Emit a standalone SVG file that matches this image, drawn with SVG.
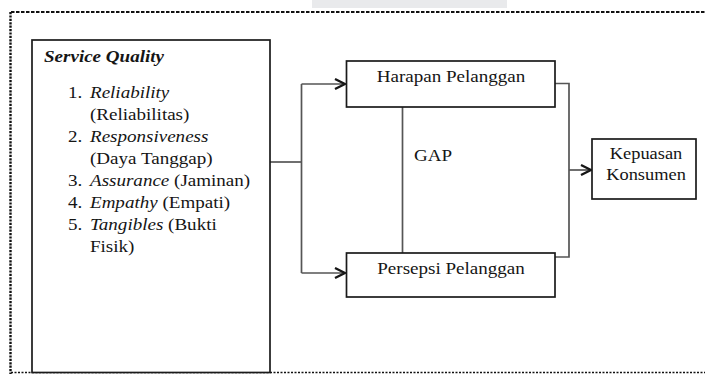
<svg xmlns="http://www.w3.org/2000/svg" width="705" height="374" viewBox="0 0 705 374">
<defs>
<style>
.t{font-family:"Liberation Serif","Times New Roman",serif;font-size:16px;fill:#151515}
.i{font-style:italic}
.b{font-weight:bold}
.box{fill:#fff;stroke:#1a1a1a;stroke-width:1.7}
.con{fill:none;stroke:#555;stroke-width:1.7}
</style>
<marker id="arr" viewBox="0 0 12 12" refX="11" refY="6" markerWidth="12" markerHeight="12" markerUnits="userSpaceOnUse" orient="auto">
<polyline points="1,1 11,6 1,11" fill="none" stroke="#151515" stroke-width="2.3"/>
</marker>
</defs>
<rect x="0" y="0" width="705" height="374" fill="#fff"/>
<rect x="312" y="0" width="195" height="8" fill="#e9eaec"/>
<g id="frame" fill="none" stroke="#111">
<line x1="11" y1="12" x2="705" y2="12" stroke-width="2" stroke-dasharray="3.5 1.5"/>
<line x1="10.5" y1="12" x2="10.5" y2="374" stroke-width="2.4" stroke-dasharray="2.2 1.2"/>
<line x1="11" y1="372.5" x2="705" y2="372.5" stroke-width="1.5" stroke-dasharray="2 1.5"/>
</g>
<g id="connectors">
<path class="con" d="M270,162 H301.5"/>
<path class="con" d="M301.5,84 V273"/>
<path class="con" d="M301.5,84 H345" marker-end="url(#arr)"/>
<path class="con" d="M301.5,273 H345" marker-end="url(#arr)"/>
<path class="con" d="M402.5,107 V253"/>
<path class="con" d="M555,83.5 H569 V257 H555"/>
<path class="con" d="M569,170 H591" marker-end="url(#arr)"/>
</g>
<g id="service-quality">
<rect class="box" x="32" y="40" width="238" height="332.5"/>
<text class="t b i" transform="translate(44,62) scale(1.19,1)">Service Quality</text>
<text class="t" transform="translate(68,98) scale(1.19,1)">1.</text>
<text class="t i" transform="translate(90,98) scale(1.19,1)">Reliability</text>
<text class="t" transform="translate(90,120) scale(1.19,1)">(Reliabilitas)</text>
<text class="t" transform="translate(68,142) scale(1.19,1)">2.</text>
<text class="t i" transform="translate(90,142) scale(1.19,1)">Responsiveness</text>
<text class="t" transform="translate(90,164) scale(1.19,1)">(Daya Tanggap)</text>
<text class="t" transform="translate(68,186) scale(1.19,1)">3.</text>
<text class="t" transform="translate(90,186) scale(1.19,1)"><tspan class="i">Assurance</tspan> (Jaminan)</text>
<text class="t" transform="translate(68,208) scale(1.19,1)">4.</text>
<text class="t" transform="translate(90,208) scale(1.19,1)"><tspan class="i">Empathy</tspan> (Empati)</text>
<text class="t" transform="translate(68,230) scale(1.19,1)">5.</text>
<text class="t" transform="translate(90,230) scale(1.19,1)"><tspan class="i">Tangibles</tspan> (Bukti</text>
<text class="t" transform="translate(90,252) scale(1.19,1)">Fisik)</text>
</g>
<g id="harapan">
<rect class="box" x="346.5" y="61" width="208.5" height="46"/>
<text class="t" text-anchor="middle" transform="translate(451,82) scale(1.19,1)">Harapan Pelanggan</text>
</g>
<g id="persepsi">
<rect class="box" x="346.5" y="253" width="208.5" height="44"/>
<text class="t" text-anchor="middle" transform="translate(451,274) scale(1.19,1)">Persepsi Pelanggan</text>
</g>
<g id="gap">
<text class="t" transform="translate(414,161) scale(1.19,1)">GAP</text>
</g>
<g id="kepuasan">
<rect class="box" x="592" y="139" width="104" height="60"/>
<text class="t" text-anchor="middle" transform="translate(646,159) scale(1.15,1)">Kepuasan</text>
<text class="t" text-anchor="middle" transform="translate(646,180) scale(1.15,1)">Konsumen</text>
</g>
</svg>
